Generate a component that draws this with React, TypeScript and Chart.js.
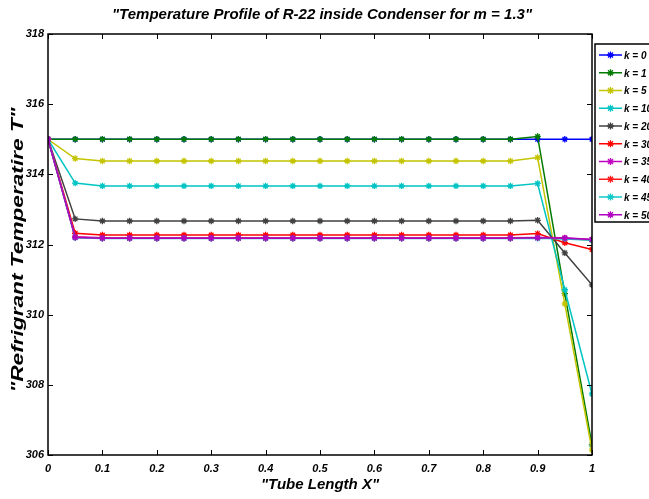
import React, { useEffect, useRef } from "react";
import { Chart, registerables } from "chart.js";

Chart.register(...registerables);

const xValues = [0, 0.05, 0.1, 0.15, 0.2, 0.25, 0.3, 0.35, 0.4, 0.45, 0.5, 0.55, 0.6, 0.65, 0.7, 0.75, 0.8, 0.85, 0.9, 0.95, 1];

const k0 = [315, 315, 315, 315, 315, 315, 315, 315, 315, 315, 315, 315, 315, 315, 315, 315, 315, 315, 315, 315, 315];
const k1 = [315, 315, 315, 315, 315, 315, 315, 315, 315, 315, 315, 315, 315, 315, 315, 315, 315, 315, 315.08, 310.6, 306.29];
const k5 = [315, 314.45, 314.38, 314.38, 314.38, 314.38, 314.38, 314.38, 314.38, 314.38, 314.38, 314.38, 314.38, 314.38, 314.38, 314.38, 314.38, 314.38, 314.48, 310.31, 306.14];
const k10 = [315, 313.75, 313.67, 313.67, 313.67, 313.67, 313.67, 313.67, 313.67, 313.67, 313.67, 313.67, 313.67, 313.67, 313.67, 313.67, 313.67, 313.67, 313.74, 310.71, 307.74];
const k20 = [315, 312.73, 312.67, 312.67, 312.67, 312.67, 312.67, 312.67, 312.67, 312.67, 312.67, 312.67, 312.67, 312.67, 312.67, 312.67, 312.67, 312.67, 312.69, 311.76, 310.85];
const k30 = [315, 312.32, 312.27, 312.27, 312.27, 312.27, 312.27, 312.27, 312.27, 312.27, 312.27, 312.27, 312.27, 312.27, 312.27, 312.27, 312.27, 312.27, 312.31, 312.05, 311.86];
const k35 = [315, 312.22, 312.19, 312.19, 312.19, 312.19, 312.19, 312.19, 312.19, 312.19, 312.19, 312.19, 312.19, 312.19, 312.19, 312.19, 312.19, 312.19, 312.2, 312.19, 312.14];
const k40 = [315, 312.21, 312.18, 312.18, 312.18, 312.18, 312.18, 312.18, 312.18, 312.18, 312.18, 312.18, 312.18, 312.18, 312.18, 312.18, 312.18, 312.18, 312.19, 312.17, 312.13];
const k45 = [315, 312.19, 312.17, 312.17, 312.17, 312.17, 312.17, 312.17, 312.17, 312.17, 312.17, 312.17, 312.17, 312.17, 312.17, 312.17, 312.17, 312.17, 312.18, 312.16, 312.12];
const k50 = [315, 312.2, 312.18, 312.18, 312.18, 312.18, 312.18, 312.18, 312.18, 312.18, 312.18, 312.18, 312.18, 312.18, 312.18, 312.18, 312.18, 312.18, 312.19, 312.18, 312.14];

const seriesLabels = ["k = 0", "k = 1", "k = 5", "k = 10", "k = 20", "k = 30", "k = 35", "k = 40", "k = 45", "k = 50"];
const seriesValues = [k0, k1, k5, k10, k20, k30, k35, k40, k45, k50];
const seriesColors = ["#0000ff", "#007a00", "#c4c400", "#00c4c4", "#404040", "#ff0000", "#c000c0", "#ff1a1a", "#10c8c8", "#b000c0"];

const yTicks = [306, 308, 310, 312, 314, 316, 318];
const xTicks = [0, 0.1, 0.2, 0.3, 0.4, 0.5, 0.6, 0.7, 0.8, 0.9, 1];

const titleText = "\"Temperature Profile of R-22 inside Condenser for m = 1.3\"";
const xTitle = "\"Tube Length X\"";
const yTitle = "\"Refrigrant Temperatire T\"";

const FONT = "\"Liberation Sans\", Arial, sans-serif";

const decorPlugin = {
  id: "decor",
  afterDraw(chart: any) {
    const ctx = chart.ctx as CanvasRenderingContext2D;
    const { left, right, top, bottom } = chart.chartArea;
    const xs = chart.scales.x;
    const ys = chart.scales.y;
    ctx.save();
    // axes box
    ctx.strokeStyle = "#000";
    ctx.lineWidth = 1.5;
    ctx.strokeRect(left, top, right - left, bottom - top);
    // ticks
    ctx.lineWidth = 1;
    const tl = 5;
    ctx.beginPath();
    xTicks.forEach((v) => {
      const px = Math.round(xs.getPixelForValue(v)) + 0.5;
      ctx.moveTo(px, bottom);
      ctx.lineTo(px, bottom - tl);
      ctx.moveTo(px, top);
      ctx.lineTo(px, top + tl);
    });
    yTicks.forEach((v) => {
      const py = Math.round(ys.getPixelForValue(v)) + 0.5;
      ctx.moveTo(left, py);
      ctx.lineTo(left + tl, py);
      ctx.moveTo(right, py);
      ctx.lineTo(right - tl, py);
    });
    ctx.stroke();

    // title
    ctx.fillStyle = "#000";
    ctx.textAlign = "center";
    ctx.textBaseline = "middle";
    ctx.font = `italic bold 15px ${FONT}`;
    ctx.fillText(titleText, 322, 15);
    // x title
    ctx.font = `italic bold 15px ${FONT}`;
    ctx.fillText(xTitle, (left + right) / 2, 485);
    // y title
    ctx.save();
    ctx.translate(18, 250);
    ctx.rotate(-Math.PI / 2);
    ctx.font = `italic bold 17px ${FONT}`;
    const w = ctx.measureText(yTitle).width;
    ctx.scale(285 / w, 1);
    ctx.fillText(yTitle, 0, 0);
    ctx.restore();

    // legend
    const lx = 595;
    const ly = 44;
    const lw = 70;
    const lh = 178;
    ctx.fillStyle = "#fff";
    ctx.fillRect(lx, ly, lw, lh);
    ctx.strokeStyle = "#000";
    ctx.lineWidth = 1.5;
    ctx.strokeRect(lx, ly, lw, lh);
    ctx.font = `italic bold 10px ${FONT}`;
    ctx.textAlign = "left";
    ctx.textBaseline = "middle";
    seriesLabels.forEach((lab, i) => {
      const y = 55 + i * 17.75;
      const c = seriesColors[i];
      ctx.strokeStyle = c;
      ctx.lineWidth = 1.5;
      ctx.beginPath();
      ctx.moveTo(599, y);
      ctx.lineTo(622, y);
      ctx.stroke();
      ctx.beginPath();
      ctx.lineWidth = 1.3;
      ctx.moveTo(607, y);
      ctx.lineTo(614, y);
      ctx.moveTo(610.5, y - 3.5);
      ctx.lineTo(610.5, y + 3.5);
      ctx.moveTo(608, y - 2.5);
      ctx.lineTo(613, y + 2.5);
      ctx.moveTo(613, y - 2.5);
      ctx.lineTo(608, y + 2.5);
      ctx.stroke();
      ctx.fillStyle = "#000";
      ctx.fillText(lab, 624, y + 1);
    });
    ctx.restore();
  },
};

export default function App() {
  const ref = useRef<HTMLCanvasElement | null>(null);
  useEffect(() => {
    if (!ref.current) return;
    const datasets = seriesValues.map((vals, i) => ({
      label: seriesLabels[i],
      data: vals.map((v, j) => ({ x: xValues[j], y: v })),
      borderColor: seriesColors[i],
      backgroundColor: seriesColors[i],
      pointBackgroundColor: seriesColors[i],
      pointBorderColor: seriesColors[i],
      pointStyle: "star" as const,
      pointRadius: 3.2,
      pointBorderWidth: 1.3,
      borderWidth: 1.5,
      tension: 0,
      order: 20 - i,
    }));
    const chart = new Chart(ref.current, {
      type: "line",
      data: { datasets },
      options: {
        animation: false,
        responsive: false,
        devicePixelRatio: 1,
        layout: { padding: { top: 34, right: 57, left: 0, bottom: 0 } },
        plugins: { legend: { display: false }, tooltip: { enabled: false }, title: { display: false } },
        scales: {
          x: {
            type: "linear",
            min: 0,
            max: 1,
            afterBuildTicks: (s: any) => {
              s.ticks = xTicks.map((v) => ({ value: v }));
            },
            afterFit: (s: any) => {
              s.height = 44;
            },
            grid: { display: false, drawTicks: false },
            border: { display: false },
            ticks: {
              color: "#000",
              padding: 7,
              maxRotation: 0,
              autoSkip: false,
              font: { family: FONT, size: 11, style: "italic", weight: "bold" },
              callback: (v: any) => String(Math.round(Number(v) * 10) / 10),
            },
          },
          y: {
            type: "linear",
            min: 306,
            max: 318,
            afterBuildTicks: (s: any) => {
              s.ticks = yTicks.map((v) => ({ value: v }));
            },
            afterFit: (s: any) => {
              s.width = 48;
            },
            grid: { display: false, drawTicks: false },
            border: { display: false },
            ticks: {
              color: "#000",
              padding: 4,
              autoSkip: false,
              font: { family: FONT, size: 11, style: "italic", weight: "bold" },
              callback: (v: any) => String(v),
            },
          },
        },
      },
      plugins: [decorPlugin],
    });
    return () => chart.destroy();
  }, []);
  return (
    <div style={{ position: "fixed", left: 0, top: 0, width: 649, height: 499, background: "#fff", overflow: "hidden" }}>
      <canvas ref={ref} width={649} height={499} style={{ display: "block", width: 649, height: 499 }} />
    </div>
  );
}
